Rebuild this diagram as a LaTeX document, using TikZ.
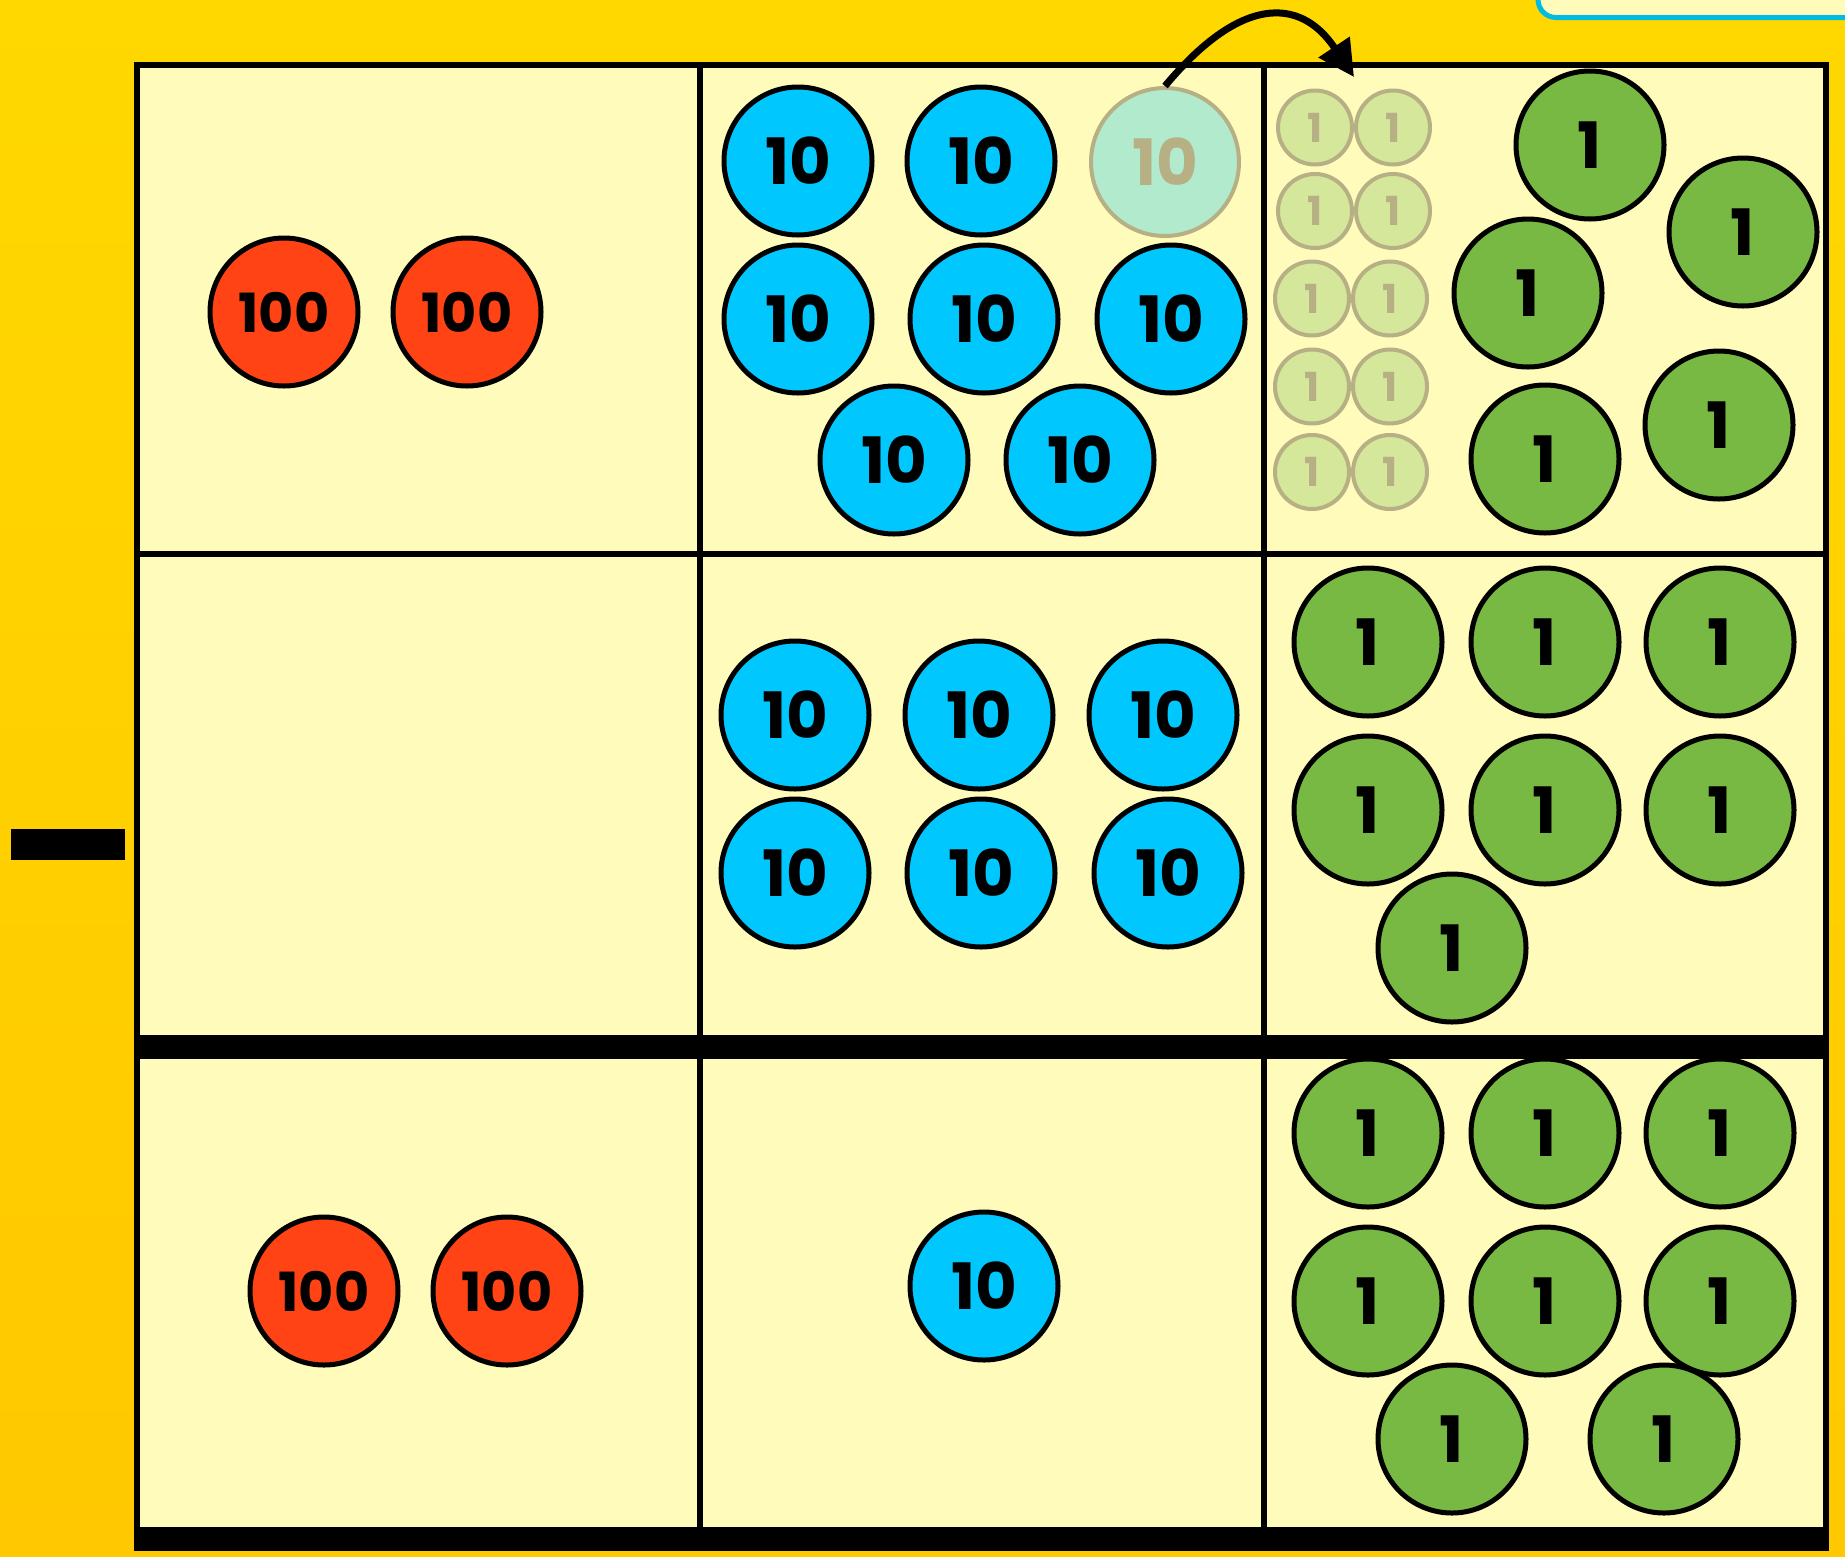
\documentclass[tikz,border=0pt]{standalone}
\usepackage{fontspec}
\newfontfamily\coinfont{Poppins}
\usetikzlibrary{arrows.meta}
\definecolor{mattegold}{RGB}{255,216,0}
\definecolor{matteorange}{RGB}{255,200,0}
\definecolor{cellcream}{RGB}{255,251,187}
\definecolor{hundredred}{RGB}{255,67,20}
\definecolor{tenblue}{RGB}{0,200,255}
\definecolor{onegreen}{RGB}{119,185,66}
\definecolor{fadedmint}{RGB}{178,234,205}
\definecolor{fadedlime}{RGB}{213,231,155}
\definecolor{fadedgrey}{RGB}{182,176,132}
\definecolor{tabcyan}{RGB}{0,188,228}

\begin{document}
\begin{tikzpicture}[x=1pt, y=-1pt,
  coin/.style={circle, draw=black, line width=5pt, minimum size=148pt, inner sep=0pt, font=\coinfont\bfseries\fontsize{64}{64}\selectfont},
  hundred/.style={coin, fill=hundredred, font=\coinfont\bfseries\fontsize{54}{54}\selectfont},
  ten/.style={coin, fill=tenblue},
  one/.style={coin, fill=onegreen},
  tengone/.style={coin, line width=4pt, fill=fadedmint, draw=fadedgrey, text=fadedgrey},
  onegone/.style={circle, line width=4pt, minimum size=74pt, inner sep=0pt, fill=fadedlime, draw=fadedgrey, text=fadedgrey, font=\coinfont\bfseries\fontsize{40}{40}\selectfont},
  gridline/.style={line width=6pt},
  barline/.style={line width=24pt},
  carry/.style={-{Triangle[length=36pt,width=36pt]}, line width=7pt}
]
\useasboundingbox (0,0) rectangle (1845,1556);
\fill[top color=mattegold, bottom color=matteorange] (0,0) rectangle (1845,1556);
\begin{scope}
\clip (0,0) rectangle (1845,1556);
\draw[tabcyan, line width=5pt, fill=cellcream, rounded corners=18pt] (1538,-40) rectangle (1900,17.5);
\end{scope}
\fill (11,829) rectangle (125,860);

\fill[cellcream] (137,64.5) rectangle (1826,1539);
\draw[gridline] (137,64.5) rectangle (1826,1539);
\draw[gridline] (700,64.5) -- (700,1539);
\draw[gridline] (1264,64.5) -- (1264,1539);
\draw[gridline] (137,554) -- (1826,554);
\draw[barline] (134,1047) -- (1829,1047);
\draw[barline] (134,1539) -- (1829,1539);

\node[hundred] (h1) at (284,312) {100};
\node[hundred] (h2) at (467,312) {100};
\node[ten] (t1) at (798,161) {10};
\node[ten] (t2) at (981,161) {10};
\node[tengone] (tg) at (1165,162) {10};
\node[ten] (t3) at (798,319) {10};
\node[ten] (t4) at (984,319) {10};
\node[ten] (t5) at (1171,319) {10};
\node[ten] (t6) at (894,460) {10};
\node[ten] (t7) at (1080,460) {10};
\node[onegone] (s1) at (1315,127.5) {1};
\node[onegone] (s2) at (1393,127.5) {1};
\node[onegone] (s3) at (1315,211) {1};
\node[onegone] (s4) at (1393,211) {1};
\node[onegone] (s5) at (1312,298.5) {1};
\node[onegone] (s6) at (1390,298.5) {1};
\node[onegone] (s7) at (1312,386.5) {1};
\node[onegone] (s8) at (1390,386.5) {1};
\node[onegone] (s9) at (1312,472) {1};
\node[onegone] (s10) at (1390,472) {1};
\node[one] (u1) at (1590,145) {1};
\node[one] (u2) at (1743,232) {1};
\node[one] (u3) at (1528,293) {1};
\node[one] (u4) at (1719,425) {1};
\node[one] (u5) at (1545,459) {1};

\node[ten] (t8) at (795,715) {10};
\node[ten] (t9) at (979,715) {10};
\node[ten] (t10) at (1163,715) {10};
\node[ten] (t11) at (795,873) {10};
\node[ten] (t12) at (981,873) {10};
\node[ten] (t13) at (1168,873) {10};
\node[one] (u6) at (1368,642) {1};
\node[one] (u7) at (1545,642) {1};
\node[one] (u8) at (1720,642) {1};
\node[one] (u9) at (1368,810) {1};
\node[one] (u10) at (1545,810) {1};
\node[one] (u11) at (1720,810) {1};
\node[one] (u12) at (1452,948) {1};

\node[hundred] (h3) at (324,1291) {100};
\node[hundred] (h4) at (507,1291) {100};
\node[ten] (t14) at (984,1286) {10};
\node[one] (u13) at (1368,1133) {1};
\node[one] (u14) at (1545,1133) {1};
\node[one] (u15) at (1720,1133) {1};
\node[one] (u16) at (1368,1301) {1};
\node[one] (u17) at (1545,1301) {1};
\node[one] (u18) at (1720,1301) {1};
\node[one] (u19) at (1452,1439) {1};
\node[one] (u20) at (1664,1439) {1};

\coordinate (carryend) at (1354,77);
\draw[carry] (tg.north) .. controls (1240,-4) and (1300,-4) .. (carryend);
\end{tikzpicture}
\end{document}
